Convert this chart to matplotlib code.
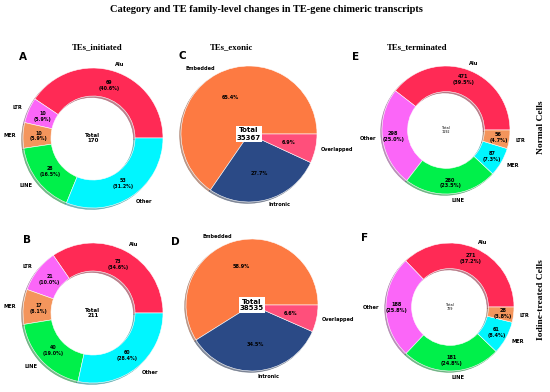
import matplotlib.pyplot as plt

# TE family counts (donuts)
fam_A = ['Alu', 'LTR', 'MER', 'LINE', 'Other']
cnt_A = [69, 10, 10, 28, 53]
fam_B = ['Alu', 'LTR', 'MER', 'LINE', 'Other']
cnt_B = [73, 21, 17, 40, 60]
fam_E = ['Alu', 'Other', 'LINE', 'MER', 'LTR']
cnt_E = [471, 298, 280, 87, 56]
fam_F = ['Alu', 'Other', 'LINE', 'MER', 'LTR']
cnt_F = [271, 188, 181, 61, 28]

# category shares (pies)
cat_labels = ['Embedded', 'Intronic', 'Overlapped']
pct_C = [65.4, 27.7, 6.9]
pct_D = [58.9, 34.5, 6.6]
total_C = 35367
total_D = 38535

red, mag, ora, grn, cya = '#ff2a55', '#fb66f8', '#f4955c', '#00f04a', '#00f6ff'
col_AB = [red, mag, ora, grn, cya]
col_EF = [red, mag, grn, cya, ora]
col_CD = ['#fd7a42', '#2b4a86', '#ff4f7b']

W, H = 550, 392
fig = plt.figure(figsize=(5.5, 3.92), dpi=100)
shadow = dict(ox=-0.015, oy=-0.015, shade=0.5)


def place(cx, cy, r):
    s = 2 * r * 1.25
    return fig.add_axes([(cx - s / 2) / W, 1 - (cy + s / 2) / H, s / W, s / H])


def donut(ax, counts, labels, colors, pctdist, pfs, tsize, tweight):
    tot = sum(counts)
    _, texts, autotexts = ax.pie(
        counts, labels=labels, colors=colors, startangle=0,
        autopct=lambda p: '{:d}\n({:.1f}%)'.format(int(round(p * tot / 100)), p),
        pctdistance=pctdist, labeldistance=1.1, shadow=shadow,
        wedgeprops=dict(width=0.4, edgecolor='white', linewidth=0.4),
        textprops=dict(fontsize=3.7, fontweight='bold'))
    for t in autotexts:
        t.set_fontsize(pfs)
    ax.text(0, 0, 'Total\n%d' % tot, ha='center', va='center',
            fontsize=tsize, fontweight=tweight)
    ax.set_xlim(-1.25, 1.25)
    ax.set_ylim(-1.25, 1.25)


def pie(ax, pcts, total):
    ax.pie(pcts, labels=cat_labels, colors=col_CD, startangle=0,
           autopct='%.1f%%', pctdistance=0.6, labeldistance=1.08, shadow=shadow,
           wedgeprops=dict(edgecolor='white', linewidth=0.4),
           textprops=dict(fontsize=3.6, fontweight='bold'))
    ax.text(0, 0, 'Total\n%d' % total, ha='center', va='center',
            fontsize=5, fontweight='bold',
            bbox=dict(boxstyle='square,pad=0.2', fc='white', ec='none'))
    ax.set_xlim(-1.25, 1.25)
    ax.set_ylim(-1.25, 1.25)


donut(place(93, 138, 70), cnt_A, fam_A, col_AB, 0.78, 3.4, 4, 'bold')
donut(place(93, 313, 70), cnt_B, fam_B, col_AB, 0.78, 3.4, 4, 'bold')
pie(place(249, 134, 68), pct_C, total_C)
pie(place(252, 305, 66), pct_D, total_D)
donut(place(446, 130, 64), cnt_E, fam_E, col_EF, 0.83, 3.6, 2.4, 'normal')
donut(place(450, 307, 64), cnt_F, fam_F, col_EF, 0.83, 3.6, 2.4, 'normal')

serif = 'Liberation Serif'
fig.text(0.485, 1 - 10 / H, 'Category and TE family-level changes in TE-gene chimeric transcripts',
         ha='center', va='center', family=serif, fontweight='bold', fontsize=7.5)
for x, t in [(97, 'TEs_initiated'), (232, 'TEs_exonic'), (417, 'TEs_terminated')]:
    fig.text(x / W, 1 - 47 / H, t, ha='center', va='center', family=serif,
             fontweight='bold', fontsize=6.3)
fig.text(541 / W, 1 - 127 / H, 'Normal Cells', rotation=90, ha='center', va='center',
         family=serif, fontweight='bold', fontsize=6.8)
fig.text(541 / W, 1 - 300 / H, 'Iodine-treated Cells', rotation=90, ha='center', va='center',
         family=serif, fontweight='bold', fontsize=6.8)

for x, y, l in [(23, 57, 'A'), (182, 56, 'C'), (356, 57, 'E'),
                (27, 240, 'B'), (175, 242, 'D'), (365, 238, 'F')]:
    fig.text(x / W, 1 - y / H, l, ha='center', va='center', fontweight='heavy', fontsize=7.5)

fig.savefig('out.png', dpi=100)
